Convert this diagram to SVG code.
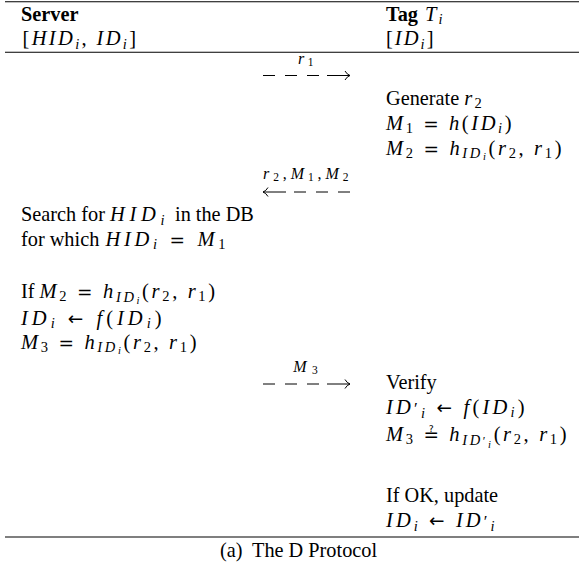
<svg xmlns="http://www.w3.org/2000/svg" width="579" height="566" viewBox="0 0 579 566">
<style>
text{font-family:"Liberation Serif","Times New Roman",serif;font-size:20.3px;fill:#000}
.b{font-weight:bold}
.m{font-size:20.5px;letter-spacing:1.5px}
.i{font-style:italic}
.s{font-size:14.5px}
.ss{font-size:10.5px}
.op{font-family:"DejaVu Sans",sans-serif;font-style:normal;font-size:18.5px}
.lb{font-size:16px;letter-spacing:1.5px}
.lb .ss{font-size:11.5px}
.rule{stroke:#000;stroke-width:1.1}
.dash{stroke:#000;stroke-width:1;stroke-dasharray:12 10;fill:none}
.ln{stroke:#000;stroke-width:1;fill:none}
</style>
<rect width="579" height="566" fill="#fff"/>
<g id="rules">
<line class="rule" x1="5" y1="1.7" x2="579" y2="1.7"/>
<line class="rule" x1="5" y1="52.3" x2="579" y2="52.3"/>
<line class="rule" x1="5" y1="537" x2="579" y2="537"/>
</g>
<g id="server">
<text x="21" y="20.5" class="b">Server</text>
<text class="m" x="22.5" y="45" textLength="115">[<tspan class="i">HID</tspan><tspan class="i s" dy="3.5">i</tspan><tspan dy="-3.5">, </tspan><tspan class="i">ID</tspan><tspan class="i s" dy="3.5">i</tspan><tspan dy="-3.5">]</tspan></text>
<g id="search">
<text x="21" y="221">Search for</text>
<text class="m" x="110" y="221" textLength="56"><tspan class="i">HID</tspan><tspan class="i s" dy="3.5">i</tspan></text>
<text x="175" y="221">in the DB</text>
</g>
<g id="forwhich">
<text x="21" y="245.5">for which</text>
<text class="m" x="105.5" y="245.5" textLength="121.5"><tspan class="i">HID</tspan><tspan class="i s" dy="3.5">i</tspan><tspan dy="-3.5"> </tspan><tspan class="op">=</tspan> <tspan class="i">M</tspan><tspan class="s" dy="3">1</tspan></text>
</g>
<g id="ifm2">
<text x="21" y="298">If</text>
<text class="m" x="39.6" y="298" textLength="177"><tspan class="i">M</tspan><tspan class="s" dy="3">2</tspan><tspan dy="-3"> </tspan><tspan class="op">=</tspan> <tspan class="i">h</tspan><tspan class="i s" dy="3.5">ID</tspan><tspan class="i ss" dy="2">i</tspan><tspan dy="-5.5">(</tspan><tspan class="i">r</tspan><tspan class="s" dy="3">2</tspan><tspan dy="-3">, </tspan><tspan class="i">r</tspan><tspan class="s" dy="3">1</tspan><tspan dy="-3">)</tspan></text>
</g>
<text class="m" x="21" y="324.5" textLength="142"><tspan class="i">ID</tspan><tspan class="i s" dy="3.5">i</tspan><tspan dy="-3.5"> </tspan><tspan class="op">←</tspan> <tspan class="i">f</tspan>(<tspan class="i">ID</tspan><tspan class="i s" dy="3.5">i</tspan><tspan dy="-3.5">)</tspan></text>
<text class="m" x="21" y="348.5" textLength="177"><tspan class="i">M</tspan><tspan class="s" dy="3">3</tspan><tspan dy="-3"> </tspan><tspan class="op">=</tspan> <tspan class="i">h</tspan><tspan class="i s" dy="3.5">ID</tspan><tspan class="i ss" dy="2">i</tspan><tspan dy="-5.5">(</tspan><tspan class="i">r</tspan><tspan class="s" dy="3">2</tspan><tspan dy="-3">, </tspan><tspan class="i">r</tspan><tspan class="s" dy="3">1</tspan><tspan dy="-3">)</tspan></text>
</g>
<g id="tag">
<text x="386" y="20.5" class="b">Tag</text>
<text class="m" x="425" y="20.5" textLength="19"><tspan class="i">T</tspan><tspan class="i s" dy="3.5">i</tspan></text>
<text class="m" x="386" y="45" textLength="49">[<tspan class="i">ID</tspan><tspan class="i s" dy="3.5">i</tspan><tspan dy="-3.5">]</tspan></text>
<text x="386" y="105">Generate</text>
<text class="m" x="464.3" y="105" textLength="19"><tspan class="i">r</tspan><tspan class="s" dy="3">2</tspan></text>
<text class="m" x="386" y="129.5" textLength="127"><tspan class="i">M</tspan><tspan class="s" dy="3">1</tspan><tspan dy="-3"> </tspan><tspan class="op">=</tspan> <tspan class="i">h</tspan>(<tspan class="i">ID</tspan><tspan class="i s" dy="3">i</tspan><tspan dy="-3">)</tspan></text>
<text class="m" x="386" y="154.5" textLength="177"><tspan class="i">M</tspan><tspan class="s" dy="3">2</tspan><tspan dy="-3"> </tspan><tspan class="op">=</tspan> <tspan class="i">h</tspan><tspan class="i s" dy="3.5">ID</tspan><tspan class="i ss" dy="2">i</tspan><tspan dy="-5.5">(</tspan><tspan class="i">r</tspan><tspan class="s" dy="3">2</tspan><tspan dy="-3">, </tspan><tspan class="i">r</tspan><tspan class="s" dy="3">1</tspan><tspan dy="-3">)</tspan></text>
<text x="386" y="389">Verify</text>
<text class="m" x="386" y="413.5" textLength="140"><tspan class="i">ID</tspan><tspan font-size="17px">′</tspan><tspan class="i s" dy="4">i</tspan><tspan dy="-4"> </tspan><tspan class="op">←</tspan> <tspan class="i">f</tspan>(<tspan class="i">ID</tspan><tspan class="i s" dy="3.5">i</tspan><tspan dy="-3.5">)</tspan></text>
<text class="m" x="386" y="441" textLength="182"><tspan class="i">M</tspan><tspan class="s" dy="3">3</tspan><tspan dy="-3"> </tspan><tspan class="op">≟</tspan> <tspan class="i">h</tspan><tspan class="i s" dy="3.5">ID</tspan><tspan font-size="12px">′</tspan><tspan class="i ss" dy="3">i</tspan><tspan dy="-6.5">(</tspan><tspan class="i">r</tspan><tspan class="s" dy="3">2</tspan><tspan dy="-3">, </tspan><tspan class="i">r</tspan><tspan class="s" dy="3">1</tspan><tspan dy="-3">)</tspan></text>
<text x="386" y="502">If OK, update</text>
<text class="m" x="386" y="527" textLength="110"><tspan class="i">ID</tspan><tspan class="i s" dy="3.5">i</tspan><tspan dy="-3.5"> </tspan><tspan class="op">←</tspan> <tspan class="i">ID</tspan><tspan font-size="17px">′</tspan><tspan class="i s" dy="4">i</tspan></text>
</g>
<g id="connectors">
<g id="msg-r1">
<text class="lb" x="298" y="64" textLength="17"><tspan class="i">r</tspan><tspan class="ss" dy="2">1</tspan></text>
<line class="dash" x1="263" y1="75.5" x2="319" y2="75.5"/>
<path class="ln" d="M327,75.5 H350 M345,71 Q347,74.5 350,75.5 Q347,76.5 345,80"/>
</g>
<g id="msg-r2m1m2">
<text class="lb" x="263" y="179" textLength="87"><tspan class="i">r</tspan><tspan class="ss" dy="2">2</tspan><tspan dy="-2">,</tspan><tspan class="i">M</tspan><tspan class="ss" dy="2">1</tspan><tspan dy="-2">,</tspan><tspan class="i">M</tspan><tspan class="ss" dy="2">2</tspan></text>
<path class="ln" d="M263,192 H286 M268,187.5 Q266,191 263,192 Q266,193 268,196.5"/>
<line class="dash" x1="294" y1="192" x2="350" y2="192"/>
</g>
<g id="msg-m3">
<text class="lb" x="293.3" y="372" textLength="26"><tspan class="i">M</tspan><tspan class="ss" dy="2">3</tspan></text>
<line class="dash" x1="263" y1="384" x2="319" y2="384"/>
<path class="ln" d="M327,384 H350 M345,379.5 Q347,383 350,384 Q347,385 345,388.5"/>
</g>
</g>
<g id="caption">
<text x="220" y="557">(a)<tspan x="252">The D Protocol</tspan></text>
</g>
</svg>
